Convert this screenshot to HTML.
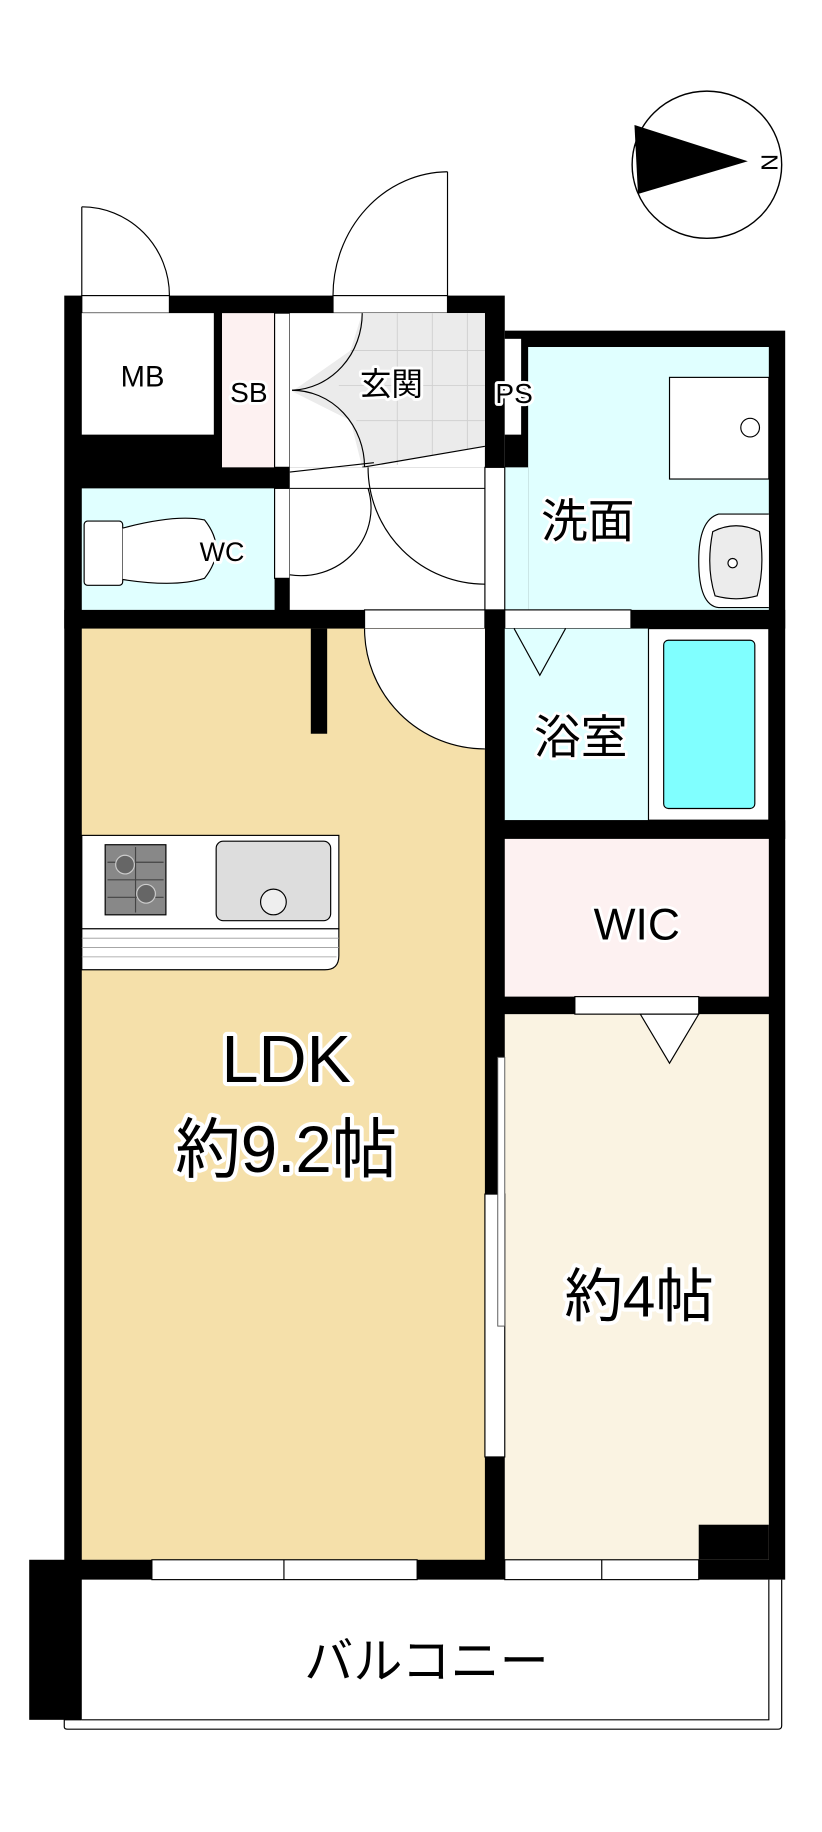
<!DOCTYPE html>
<html><head><meta charset="utf-8"><style>
html,body{margin:0;padding:0;background:#fff}
svg{display:block}
text{font-family:"Liberation Sans","Noto Sans CJK JP",sans-serif;fill:#000;text-anchor:middle;paint-order:stroke;stroke:#fff;stroke-width:5px;stroke-linejoin:round}
</style></head><body>
<svg width="822" height="1832" viewBox="0 0 703.5 1568" preserveAspectRatio="none" xmlns="http://www.w3.org/2000/svg">
<!-- compass -->
<ellipse cx="605" cy="141" rx="64" ry="63" fill="#fff" stroke="#000" stroke-width="1.2"/>
<polygon points="543,107 546,166 640,138" fill="#000"/>
<text x="657" y="139" font-size="20" transform="rotate(90 657 139)" dominant-baseline="middle" style="stroke-width:0">N</text>
<!-- exterior doors -->
<line x1="70" y1="177" x2="70" y2="253" stroke="#000" stroke-width="1"/>
<path d="M70,177 A75,76 0 0 1 145,253" fill="none" stroke="#000" stroke-width="1"/>
<line x1="383" y1="147" x2="383" y2="253" stroke="#000" stroke-width="1"/>
<path d="M383,147 A99,106 0 0 0 285,253" fill="none" stroke="#000" stroke-width="1"/>
<!-- black base walls -->
<rect x="55" y="253" width="377" height="285" fill="#000"/>
<rect x="432" y="283" width="240" height="255" fill="#000"/>
<rect x="55" y="522" width="617" height="830" fill="#000"/>
<rect x="25" y="1335" width="45" height="137" fill="#000"/>
<!-- openings top -->
<rect x="70" y="253" width="75" height="15" fill="#fff" stroke="#000" stroke-width="1"/>
<rect x="285" y="253" width="98" height="15" fill="#fff" stroke="#000" stroke-width="1"/>
<!-- MB -->
<rect x="70" y="268" width="113" height="104" fill="#fff"/>
<!-- SB -->
<rect x="190" y="268" width="45" height="132" fill="#fdf1f1"/>
<rect x="235" y="268" width="13" height="132" fill="#fff" stroke="#000" stroke-width="1"/>
<!-- genkan -->
<rect x="248" y="268" width="167" height="132" fill="#fff"/>
<polygon points="310,268 415,268 415,382 310,400 300,360 250,335 300,300" fill="#ebebeb"/>
<g stroke="#d0d0d0" stroke-width="0.8">
<line x1="340" y1="268" x2="340" y2="398"/><line x1="370" y1="268" x2="370" y2="390"/><line x1="400" y1="268" x2="400" y2="385"/>
<line x1="300" y1="300" x2="415" y2="300"/><line x1="290" y1="330" x2="415" y2="330"/><line x1="305" y1="360" x2="415" y2="360"/>
</g>
<line x1="310" y1="400" x2="415" y2="382" stroke="#000" stroke-width="1"/>
<path d="M310,268 A62,66 0 0 1 250,334" fill="none" stroke="#000" stroke-width="1"/>
<path d="M250,334 A62,66 0 0 1 312,400" fill="none" stroke="#000" stroke-width="1"/>
<!-- PS -->
<rect x="432" y="290" width="14" height="82" fill="#fff"/>
<!-- 洗面 -->
<rect x="452" y="297" width="206" height="225" fill="#e0ffff"/>
<rect x="432" y="400" width="20" height="122" fill="#e0ffff"/>
<rect x="573" y="323" width="85" height="87" fill="#fff" stroke="#000" stroke-width="1"/>
<circle cx="642" cy="366" r="8" fill="#fff" stroke="#000" stroke-width="1"/>
<path d="M658,440 L615,440 Q598,445 598,480 Q598,518 615,520 L658,520" fill="#fff" stroke="#000" stroke-width="1"/>
<path d="M610,455 Q630,445 650,455 Q655,485 648,510 Q630,515 612,510 Q604,485 610,455Z" fill="#ececec" stroke="#000" stroke-width="1"/>
<circle cx="627" cy="482" r="4" fill="#fff" stroke="#000" stroke-width="1"/>
<!-- WC -->
<rect x="70" y="418" width="165" height="104" fill="#e0ffff"/>
<rect x="235" y="418" width="13" height="77" fill="#fff" stroke="#000" stroke-width="1"/>
<rect x="72" y="446" width="33" height="55" rx="3" fill="#fff" stroke="#000" stroke-width="1"/>
<path d="M105,452 Q150,440 175,445 Q195,470 175,495 Q150,503 105,496" fill="#fff" stroke="#000" stroke-width="1"/>
<!-- hallway -->
<rect x="248" y="400" width="167" height="122" fill="#fff"/>
<line x1="248" y1="418" x2="415" y2="418" stroke="#000" stroke-width="0.8"/>
<line x1="248" y1="404" x2="320" y2="396" stroke="#000" stroke-width="1"/>
<path d="M315,418 A60,58 0 0 1 248,492" fill="none" stroke="#000" stroke-width="1"/>
<path d="M315,400 A100,100 0 0 0 415,500" fill="none" stroke="#000" stroke-width="1"/>
<rect x="415" y="400" width="17" height="122" fill="#fff" stroke="#000" stroke-width="1"/>
<!-- openings row -->
<rect x="312" y="522" width="103" height="16" fill="#fff" stroke="#000" stroke-width="1"/>
<rect x="432" y="522" width="108" height="16" fill="#fff" stroke="#000" stroke-width="1"/>
<!-- LDK -->
<rect x="70" y="538" width="345" height="797" fill="#f5e0aa"/>
<rect x="266" y="538" width="14" height="90" fill="#000"/>
<path d="M312,538 A103,103 0 0 0 415,641 L415,538Z" fill="#fff"/>
<path d="M312,538 A103,103 0 0 0 415,641" fill="none" stroke="#000" stroke-width="1"/>
<!-- kitchen -->
<rect x="70" y="715" width="220" height="80" fill="#fff" stroke="#000" stroke-width="1"/>
<path d="M70,795 L290,795 L290,818 Q290,830 278,830 L70,830Z" fill="#fff" stroke="#000" stroke-width="1"/>
<g stroke="#999" stroke-width="0.7"><line x1="70" y1="803" x2="290" y2="803"/><line x1="70" y1="811" x2="290" y2="811"/><line x1="70" y1="819" x2="288" y2="819"/></g>
<rect x="90" y="723" width="52" height="60" fill="#888" stroke="#000" stroke-width="1"/>
<g stroke="#444" stroke-width="1"><line x1="92" y1="738" x2="140" y2="738"/><line x1="92" y1="753" x2="140" y2="753"/><line x1="92" y1="768" x2="140" y2="768"/><line x1="116" y1="725" x2="116" y2="781"/></g>
<circle cx="107" cy="740" r="8" fill="#666" stroke="#ccc" stroke-width="1"/>
<circle cx="125" cy="765" r="8" fill="#666" stroke="#ccc" stroke-width="1"/>
<rect x="185" y="720" width="98" height="68" rx="6" fill="#ddd" stroke="#000" stroke-width="1"/>
<circle cx="234" cy="772" r="11" fill="#eee" stroke="#000" stroke-width="1"/>
<!-- 浴室 -->
<rect x="432" y="538" width="226" height="164" fill="#e0ffff"/>
<rect x="555" y="538" width="103" height="164" fill="#fff" stroke="#000" stroke-width="1"/>
<rect x="568" y="548" width="78" height="144" rx="4" fill="#80ffff" stroke="#000" stroke-width="1"/>
<polyline points="440,538 462,578 484,538" fill="none" stroke="#000" stroke-width="1"/>
<rect x="432" y="702" width="240" height="16" fill="#000"/>
<!-- WIC -->
<rect x="432" y="718" width="226" height="135" fill="#fdf1f1"/>
<!-- room 4 -->
<rect x="432" y="868" width="226" height="467" fill="#faf3e2"/>
<rect x="492" y="853" width="106" height="15" fill="#fff" stroke="#000" stroke-width="1"/>
<polygon points="548,868 598,868 573,910" fill="#fff" stroke="#000" stroke-width="1"/>
<rect x="598" y="1305" width="60" height="30" fill="#000"/>
<!-- sliding door -->
<rect x="415" y="1022" width="17" height="225" fill="#fff" stroke="#000" stroke-width="1"/>
<rect x="426" y="905" width="6" height="230" fill="#fff" stroke="#555" stroke-width="0.8"/>
<!-- bottom windows -->
<rect x="130" y="1335" width="227" height="17" fill="#fff" stroke="#000" stroke-width="1"/>
<line x1="243" y1="1335" x2="243" y2="1352" stroke="#000" stroke-width="1"/>
<rect x="432" y="1335" width="166" height="17" fill="#fff" stroke="#000" stroke-width="1"/>
<line x1="515" y1="1335" x2="515" y2="1352" stroke="#000" stroke-width="1"/>
<!-- balcony -->
<path d="M70,1472 L55,1472 L55,1478 Q55,1480 58,1480 L666,1480 Q669,1480 669,1477 L669,1352" fill="none" stroke="#000" stroke-width="1"/>
<path d="M70,1472 L658,1472 L658,1352" fill="none" stroke="#000" stroke-width="1"/>
<!-- labels -->
<text x="122" y="331" font-size="25">MB</text>
<text x="213" y="344" font-size="24">SB</text>
<text x="335" y="338" font-size="27">玄関</text>
<text x="440" y="345" font-size="24">PS</text>
<text x="503" y="460" font-size="40">洗面</text>
<text x="190" y="480" font-size="23">WC</text>
<text x="497" y="645" font-size="40">浴室</text>
<text x="545" y="804" font-size="38">WIC</text>
<text x="245" y="926" font-size="57" style="stroke-width:7px">LDK</text>
<text x="245" y="1003" font-size="56" style="stroke-width:7px">約9.2帖</text>
<text x="547" y="1127" font-size="50" style="stroke-width:7px">約4帖</text>
<text x="365" y="1436" font-size="42" style="stroke-width:0">バルコニー</text>
</svg>
</body></html>
